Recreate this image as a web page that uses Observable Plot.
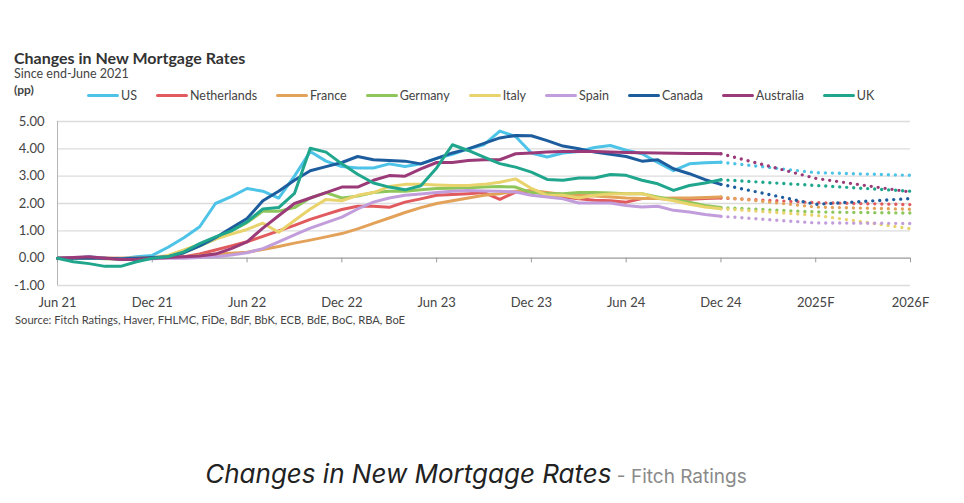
<!DOCTYPE html>
<html><head><meta charset="utf-8">
<script src="https://cdn.jsdelivr.net/npm/d3@7"></script>
<script src="https://cdn.jsdelivr.net/npm/@observablehq/plot@0.6"></script>
<style>
html,body{margin:0;padding:0}
body{width:964px;height:503px;background:#fff;position:relative;font-family:Lato,sans-serif;overflow:hidden}
#title{position:absolute;left:14px;top:48px;font-weight:700;font-size:16px;color:#333;white-space:nowrap}
#subtitle{position:absolute;left:14px;top:66px;font-size:12.5px;color:#444;white-space:nowrap}
#unit{position:absolute;left:14px;top:82px;font-size:12px;font-weight:700;color:#444}
#legend{position:absolute;left:87px;top:88px;display:flex;align-items:center;font-size:12.5px;color:#444;white-space:nowrap}
.li{display:flex;align-items:center;margin-right:19px}
.sw{width:32px;height:3px;border-radius:2px;margin-right:2px}
#chart{position:absolute;left:0;top:100px}
#source{position:absolute;left:15px;top:313px;font-size:11.2px;color:#444;white-space:nowrap}
#caption{position:absolute;left:0;width:952px;top:458px;text-align:center;font-family:Inter,sans-serif;white-space:nowrap}
#caption .a{font-style:italic;font-size:26px;color:#222}
#caption .b{font-size:19px;color:#8a8a8a}
</style></head><body>
<div id="title">Changes in New Mortgage Rates</div>
<div id="subtitle">Since end-June 2021</div>
<div id="unit">(pp)</div>
<div id="legend"></div>
<div id="chart"></div>
<div id="source">Source: Fitch Ratings, Haver, FHLMC, FiDe, BdF, BbK, ECB, BdE, BoC, RBA, BoE</div>
<div id="caption"><span class="a">Changes in New Mortgage Rates</span><span class="b"> - Fitch Ratings</span></div>
<script>
// ---- data ----
const countries = ["US","Netherlands","France","Germany","Italy","Spain","Canada","Australia","UK"];
const colors = ["#4dc3e8","#e05a5e","#e3a25a","#8fc65c","#e8d36c","#c29ddb","#1d5d9e","#9b3a78","#1fa68d"];
// month index 0 = Jun 21 ... 42 = Dec 24
const xTicks = [0,6,12,18,24,30,36,42,48,54];
const xTickLabels = ["Jun 21","Dec 21","Jun 22","Dec 22","Jun 23","Dec 23","Jun 24","Dec 24","2025F","2026F"];
const yTicks = [-1,0,1,2,3,4,5];
const forecastX = [42,48,54]; // Dec 24, 2025F, 2026F

const US = [0,0,0.05,0,-0.02,0.05,0.1,0.4,0.75,1.15,2.0,2.25,2.55,2.45,2.2,3.0,3.9,3.55,3.35,3.3,3.3,3.45,3.35,3.45,3.65,3.8,4.0,4.15,4.65,4.45,3.85,3.7,3.85,3.9,4.05,4.12,3.95,3.82,3.5,3.2,3.45,3.49,3.51];
const Netherlands = [0,0,0,0,0,0,0,0.02,0.05,0.15,0.3,0.45,0.6,0.8,1.0,1.2,1.42,1.6,1.78,1.9,1.9,1.86,2.05,2.17,2.3,2.33,2.36,2.4,2.15,2.42,2.45,2.36,2.24,2.17,2.12,2.1,2.05,2.18,2.18,2.16,2.16,2.18,2.2];
const France = [0,0,0,0,-0.02,-0.02,0,0.02,0.05,0.1,0.15,0.18,0.22,0.32,0.43,0.55,0.66,0.78,0.9,1.07,1.27,1.47,1.67,1.85,2.0,2.1,2.2,2.3,2.36,2.45,2.48,2.4,2.33,2.3,2.27,2.24,2.2,2.18,2.18,2.2,2.2,2.22,2.24];
const Germany = [0,0,0,-0.02,-0.03,-0.02,0,0.05,0.2,0.45,0.7,1.0,1.3,1.72,1.72,1.85,2.2,2.4,2.2,2.27,2.4,2.45,2.45,2.5,2.55,2.56,2.58,2.6,2.62,2.6,2.4,2.36,2.36,2.4,2.4,2.38,2.36,2.36,2.24,2.14,2.05,1.93,1.85];
const Italy = [0,0,0,0,0,0,0.02,0.1,0.3,0.5,0.7,0.88,1.05,1.28,0.95,1.38,1.8,2.15,2.1,2.3,2.4,2.62,2.7,2.7,2.68,2.66,2.66,2.7,2.78,2.9,2.55,2.3,2.3,2.2,2.3,2.35,2.36,2.36,2.2,2.1,1.97,1.87,1.81];
const Spain = [0,0.02,0.03,0,-0.03,-0.03,-0.02,0,0,0.02,0.05,0.12,0.2,0.35,0.6,0.85,1.1,1.3,1.5,1.8,2.05,2.2,2.3,2.35,2.4,2.45,2.48,2.46,2.45,2.42,2.3,2.24,2.17,2.02,2.02,2.02,1.93,1.87,1.9,1.75,1.69,1.6,1.53];
const Canada = [0,0,0,0,-0.02,0,0.02,0.05,0.2,0.45,0.75,1.1,1.45,2.1,2.45,2.85,3.2,3.35,3.5,3.72,3.6,3.57,3.55,3.45,3.65,3.85,4.0,4.2,4.4,4.49,4.48,4.3,4.1,4.0,3.88,3.8,3.72,3.55,3.6,3.27,3.09,2.87,2.7];
const Australia = [0,0.02,0.05,0,-0.05,-0.05,0,0.02,0.05,0.08,0.15,0.35,0.6,1.1,1.55,2.0,2.2,2.4,2.6,2.6,2.85,3.02,3.0,3.27,3.5,3.5,3.57,3.6,3.6,3.82,3.85,3.88,3.9,3.9,3.9,3.88,3.87,3.86,3.85,3.84,3.83,3.83,3.82];
const UK = [0,-0.13,-0.2,-0.3,-0.3,-0.13,0,0.05,0.23,0.53,0.78,1.0,1.33,1.8,1.85,2.37,4.02,3.88,3.45,3.07,2.75,2.6,2.5,2.65,3.3,4.15,3.94,3.7,3.46,3.33,3.15,2.88,2.85,2.93,2.93,3.06,3.03,2.85,2.72,2.48,2.66,2.75,2.87];

// forecast: Dec 24, 2025F, 2026F
const fcUS = [3.51,3.13,3.03];
const fcNetherlands = [2.2,2.03,1.96];
const fcFrance = [2.24,1.87,1.79];
const fcGermany = [1.85,1.69,1.65];
const fcItaly = [1.81,1.57,1.08];
const fcSpain = [1.53,1.29,1.27];
const fcCanada = [2.7,1.97,2.18];
const fcAustralia = [3.82,2.92,2.42];
const fcUK = [2.87,2.66,2.45];

const hist = {US,Netherlands,France,Germany,Italy,Spain,Canada,Australia,UK};
const fc = {US:fcUS,Netherlands:fcNetherlands,France:fcFrance,Germany:fcGermany,Italy:fcItaly,Spain:fcSpain,Canada:fcCanada,Australia:fcAustralia,UK:fcUK};

const histRows = countries.flatMap(c => hist[c].map((v,i) => ({country:c, m:i, v})));
const fcRows = countries.flatMap(c => fc[c].map((v,i) => ({country:c, m:forecastX[i], v})));

// legend
const lg = document.getElementById("legend");
countries.forEach((c,i) => {
  const d = document.createElement("div"); d.className = "li";
  d.innerHTML = `<span class="sw" style="background:${colors[i]}"></span><span>${c}</span>`;
  lg.appendChild(d);
});

const chart = Plot.plot({
  width: 964, height: 230,
  marginLeft: 57, marginRight: 54, marginTop: 21, marginBottom: 45,
  x: {domain: [0, 54], label: null},
  y: {domain: [-1, 5], label: null},
  color: {domain: countries, range: colors},
  style: {fontFamily: "Lato, sans-serif", fontSize: "13px", color: "#444", background: "transparent", overflow: "visible"},
  marks: [
    Plot.ruleY(yTicks.filter(d => d !== 0), {stroke: "#dcdcdc", strokeWidth: 1.3}),
    Plot.ruleX([0], {y1: -1, y2: 5, stroke: "#b5b5b5"}),
    Plot.ruleY([0], {stroke: "#9a9a9a", strokeWidth: 1.2}),
    Plot.ruleX(xTicks, {y1: 0, y2: -0.17, stroke: "#9a9a9a"}),
    Plot.axisY(yTicks, {tickSize: 0, tickPadding: 13, tickFormat: d => d.toFixed(2), fill: "#444", label: null}),
    Plot.axisX(xTicks, {tickSize: 0, tickPadding: 12, tickFormat: d => xTickLabels[xTicks.indexOf(d)], fill: "#444", label: null}),
    Plot.line(fcRows, {x: "m", y: "v", z: "country", stroke: "country", strokeWidth: 3.4, strokeDasharray: "0,7", strokeLinecap: "round"}),
    Plot.line(histRows, {x: "m", y: "v", z: "country", stroke: "country", strokeWidth: 3, strokeLinejoin: "round", strokeLinecap: "round"})
  ]
});
document.getElementById("chart").appendChild(chart);
</script>
</body></html>
